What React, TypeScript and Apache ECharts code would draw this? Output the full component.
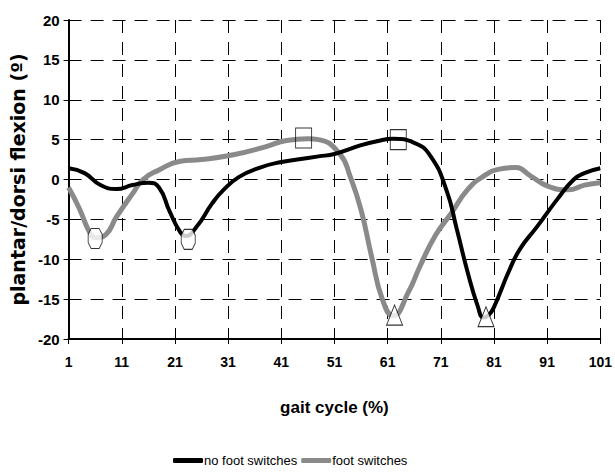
import React, { useEffect, useRef } from "react";
import * as echarts from "echarts";

// gait cycle (%) positions and ankle angle (degrees)
const noSwitchX = [1, 4, 7, 10, 13, 16, 18, 20, 22, 23, 25, 28, 30, 33, 37, 41, 44, 48, 51, 56, 59, 62, 66, 69, 72, 74, 76, 78, 79, 80, 81, 84, 86, 89, 93, 96, 98, 101];
const noSwitchY = [1.4, 0.8, -0.7, -1.2, -0.7, -0.4, -1.0, -4.0, -6.6, -7.1, -6.0, -3.0, -1.4, 0.3, 1.5, 2.2, 2.5, 2.9, 3.2, 4.3, 4.8, 5.1, 4.6, 3.0, -1.2, -6.2, -11.5, -16.0, -17.3, -17.0, -16.0, -11.2, -8.6, -6.0, -2.4, 0.0, 0.8, 1.4];

const switchX = [1, 3, 5, 6, 8, 10, 13, 15, 18, 22, 26, 32, 38, 42, 46, 48, 52, 54, 56, 58, 60, 62, 65, 67, 70, 73, 76, 79, 82, 85, 88, 91, 95, 98, 101];
const switchY = [-1.0, -3.6, -6.7, -7.3, -6.9, -4.7, -1.8, 0.0, 1.2, 2.3, 2.5, 3.1, 4.1, 4.9, 5.1, 5.0, 3.2, 0.3, -3.8, -9.7, -15.0, -17.1, -14.0, -11.0, -7.0, -4.2, -1.3, 0.4, 1.3, 1.5, 0.4, -0.8, -1.3, -0.7, -0.4];

// event markers
const hexagonMarks: [number, number][] = [[6, -7.4], [23.5, -7.5]];
const squareMarks: [number, number][] = [[45.2, 5.2], [63, 5.0]];
const triangleMarks: [number, number][] = [[62.3, -17.0], [79.5, -17.2]];

const xTicks = { min: 1, max: 101, step: 10 };
const yTicks = { min: -20, max: 20, step: 5 };

const seriesNames = ["no foot switches", "foot switches"];

const zip = (xs: number[], ys: number[]) => xs.map((x, i) => [x, ys[i]]);

export default function App() {
  const ref = useRef<HTMLDivElement>(null);
  useEffect(() => {
    if (!ref.current) return;
    const chart = echarts.init(ref.current, null, { renderer: "svg" });
    const dash = { color: "#000", width: 1, type: [13, 9] as any };
    const font = "'Liberation Sans', Arial, sans-serif";
    chart.setOption({
      animation: false,
      backgroundColor: "#fff",
      grid: { left: 67, right: 12, top: 20, bottom: 134 },
      legend: {
        data: seriesNames.map((n) => ({ name: n, icon: "roundRect" })),
        bottom: 1,
        left: 168,
        itemWidth: 30,
        itemHeight: 5,
        itemGap: 4,
        textStyle: { fontFamily: font, fontSize: 13, color: "#000", padding: [0, 0, 0, -4] },
      },
      xAxis: {
        type: "value",
        min: xTicks.min,
        max: xTicks.max,
        interval: xTicks.step,
        name: "gait cycle (%)",
        nameLocation: "middle",
        nameGap: 60,
        nameTextStyle: { fontFamily: font, fontWeight: "bold", fontSize: 17, color: "#000" },
        axisLine: { onZero: false, lineStyle: { color: "#000", width: 2 } },
        axisTick: { length: 5, lineStyle: { color: "#000", width: 1 } },
        axisLabel: {
          margin: 16,
          fontFamily: "'Liberation Sans Narrow', 'Liberation Sans', Arial, sans-serif",
          fontWeight: "bold",
          fontSize: 14,
          color: "#000",
        },
        splitLine: { show: true, lineStyle: dash },
      },
      yAxis: {
        type: "value",
        min: yTicks.min,
        max: yTicks.max,
        interval: yTicks.step,
        name: "plantar/dorsi flexion (º)",
        nameLocation: "middle",
        nameGap: 31,
        nameTextStyle: { fontFamily: "'DejaVu Sans', sans-serif", fontWeight: "bold", fontSize: 19, color: "#000" },
        axisLine: { show: true, onZero: false, lineStyle: { color: "#000", width: 2 } },
        axisTick: { show: true, length: 5, lineStyle: { color: "#000", width: 1 } },
        axisLabel: { margin: 9, fontFamily: font, fontWeight: "bold", fontSize: 15, color: "#000" },
        splitLine: { show: true, lineStyle: dash },
      },
      series: [
        {
          name: seriesNames[0],
          type: "line",
          data: zip(noSwitchX, noSwitchY),
          smooth: 0.5,
          showSymbol: false,
          symbol: "none",
          lineStyle: { color: "#000", width: 4 },
          itemStyle: { color: "#000" },
          z: 3,
        },
        {
          name: seriesNames[1],
          type: "line",
          data: zip(switchX, switchY),
          smooth: 0.5,
          showSymbol: false,
          symbol: "none",
          lineStyle: { color: "#8a8a8a", width: 5 },
          itemStyle: { color: "#8a8a8a" },
          z: 2,
        },
        {
          type: "scatter",
          data: squareMarks,
          symbol: "rect",
          symbolSize: [16, 20],
          itemStyle: { color: "rgba(0,0,0,0)", borderColor: "#000", borderWidth: 1 },
          z: 4,
        },
        {
          type: "scatter",
          data: hexagonMarks,
          symbol: "path://M3,0 L11,0 L14,6 L14,14 L11,20 L3,20 L0,14 L0,6 Z",
          symbolSize: [14, 20],
          itemStyle: { color: "#fff", borderColor: "#000", borderWidth: 1 },
          z: 4,
        },
        {
          type: "scatter",
          data: triangleMarks,
          symbol: "path://M8,0 L16,20 L0,20 Z",
          symbolSize: [16, 20],
          itemStyle: { color: "#fff", borderColor: "#000", borderWidth: 1 },
          z: 4,
        },
      ],
    });
    return () => chart.dispose();
  }, []);
  return <div ref={ref} style={{ width: 615, height: 473, position: "absolute", left: 0, top: 0 }} />;
}
